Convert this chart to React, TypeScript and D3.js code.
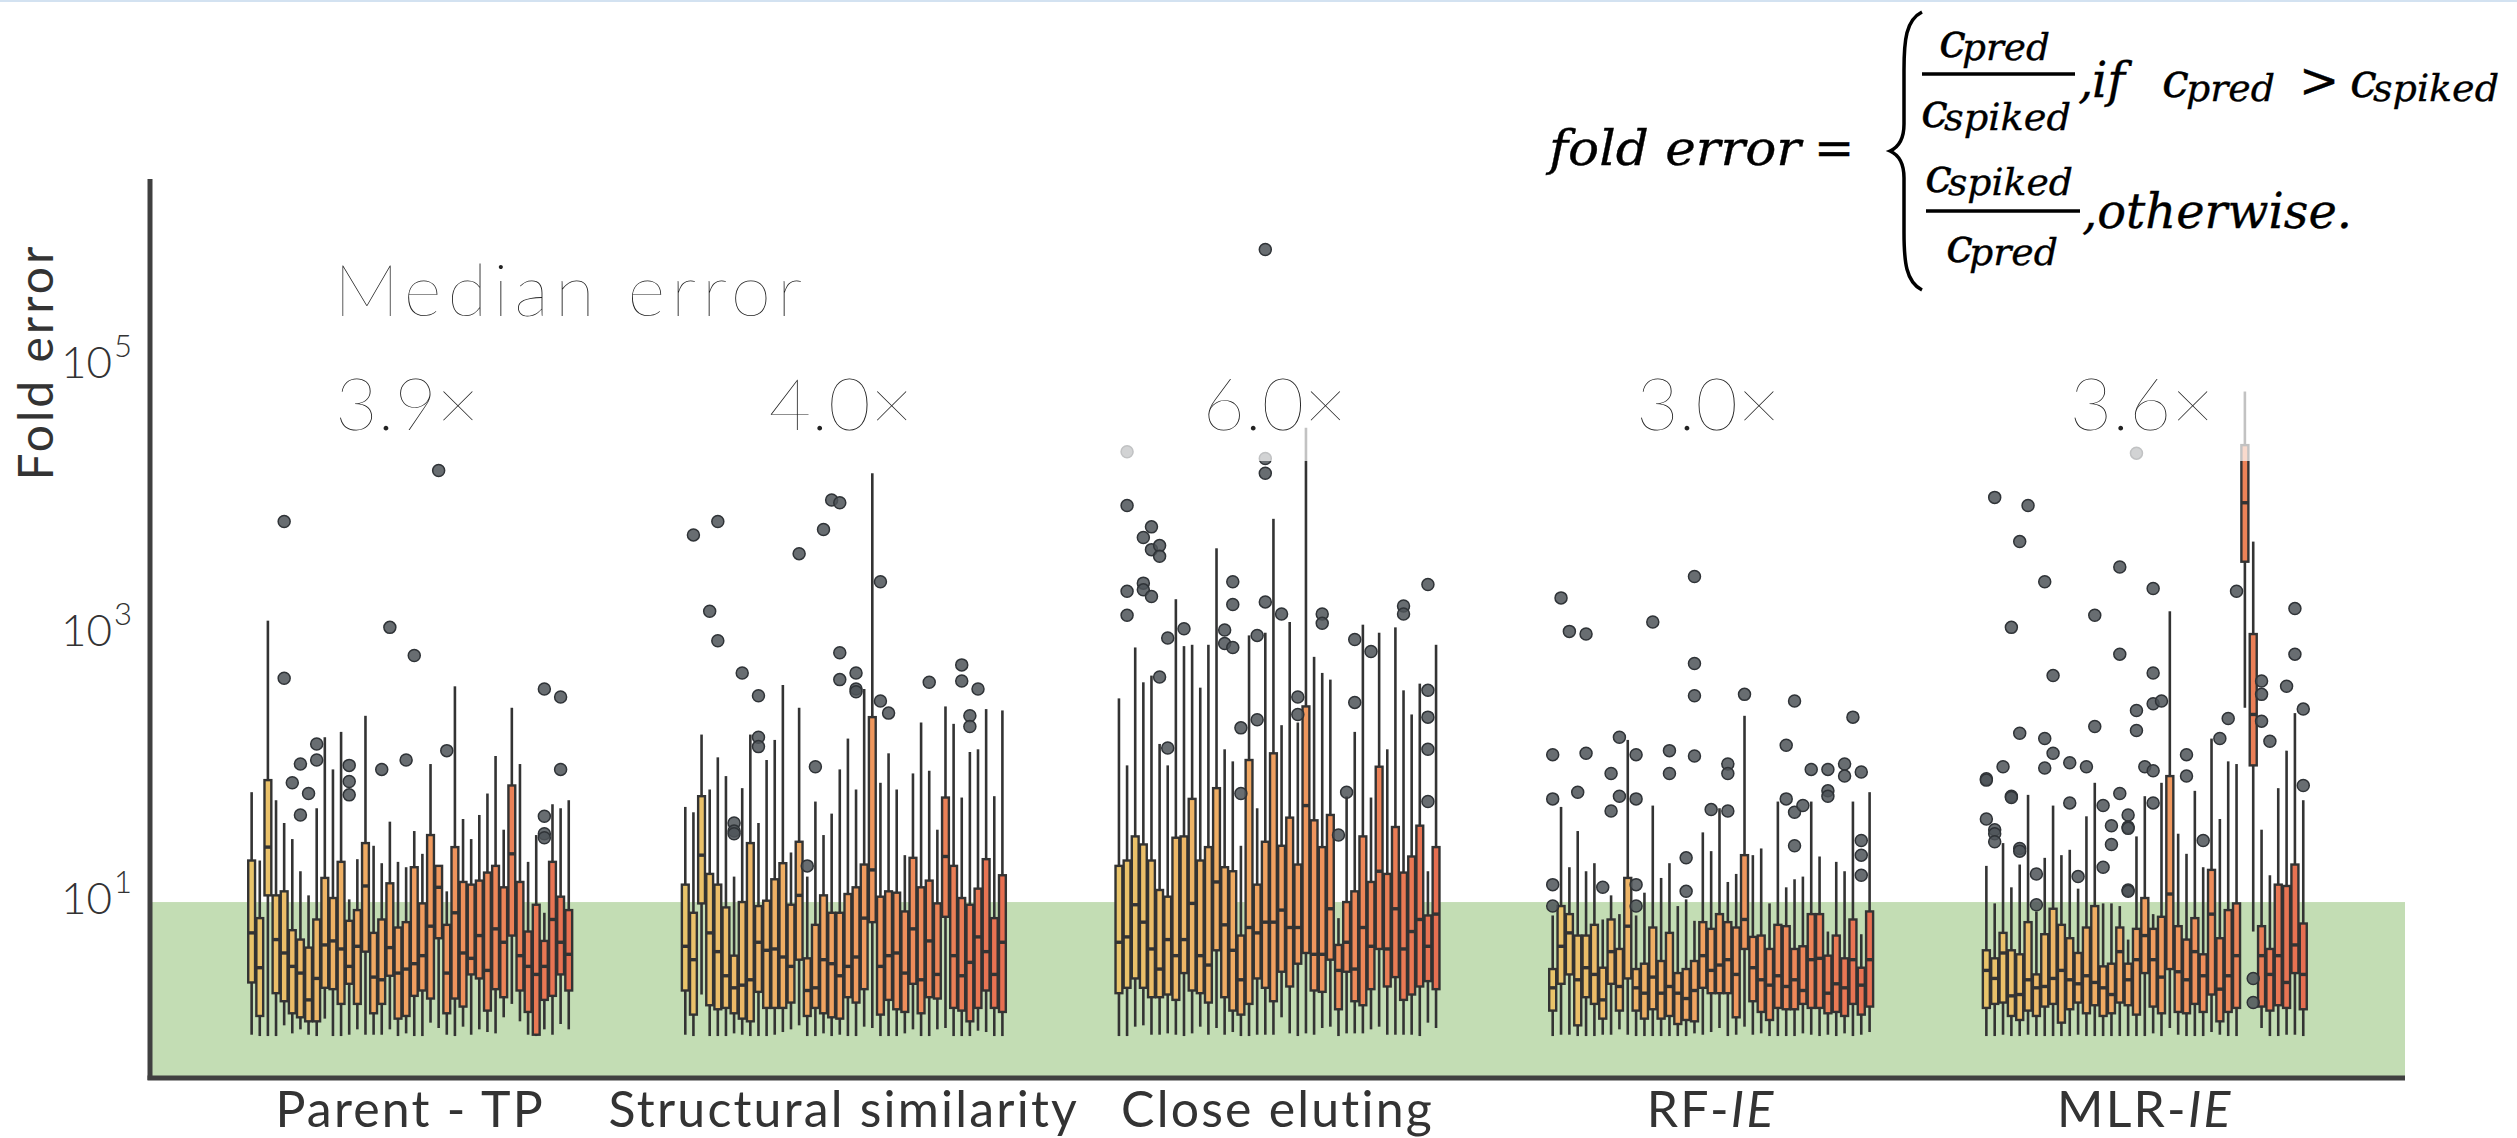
import React from "react";
import * as d3 from "d3";

const WIDTH = 2517;
const HEIGHT = 1138;

// x categories (plain part + italic suffix)
const categories = ["Parent - TP", "Structural similarity", "Close eluting", "RF-", "MLR-"];
const categoryItalic = ["", "", "", "IE", "IE"];
const medianErrors = ["3.9×", "4.0×", "6.0×", "3.0×", "3.6×"];
const tickExponents = [1, 3, 5];
const palette = ["#e9c46a", "#f4a261", "#e76f51"];

// rows: [lower whisker, q1, median, q3, upper whisker] as log10(fold error)
const parentTP = [
  [0.01, 0.40, 0.77, 1.31, 1.82], [0.00, 0.15, 0.51, 0.88, 1.31], [0.00, 1.05, 1.41, 1.91, 3.10], [0.00, 0.32, 0.72, 1.05, 1.76],
  [0.08, 0.26, 0.62, 1.08, 1.59], [0.02, 0.17, 0.52, 0.79, 1.47], [0.05, 0.14, 0.47, 0.72, 1.23], [0.01, 0.11, 0.27, 0.66, 1.05],
  [0.00, 0.11, 0.43, 0.87, 1.70], [0.13, 0.36, 0.68, 1.18, 2.23], [0.00, 0.35, 0.71, 1.03, 1.99], [0.00, 0.24, 0.65, 1.30, 2.27],
  [0.01, 0.39, 0.52, 0.86, 1.02], [0.05, 0.24, 0.67, 0.94, 1.32], [0.01, 0.63, 1.12, 1.44, 2.39], [0.01, 0.17, 0.44, 0.77, 1.42],
  [0.01, 0.24, 0.42, 0.87, 1.29], [0.05, 0.45, 0.66, 1.14, 1.60], [0.00, 0.13, 0.47, 0.81, 1.30], [0.02, 0.15, 0.50, 0.85, 1.26],
  [0.00, 0.30, 0.54, 1.26, 1.53], [0.00, 0.34, 0.60, 0.99, 1.36], [0.10, 0.28, 0.82, 1.50, 2.03], [0.06, 0.73, 1.11, 1.27, 1.27],
  [0.01, 0.17, 0.47, 0.83, 1.08], [0.00, 0.28, 0.92, 1.41, 2.61], [0.07, 0.22, 0.62, 1.15, 1.62], [0.01, 0.46, 0.58, 1.13, 1.47],
  [0.05, 0.43, 0.75, 1.16, 1.65], [0.03, 0.19, 0.49, 1.22, 1.81], [0.02, 0.35, 0.80, 1.27, 2.09], [0.14, 0.29, 0.70, 1.11, 1.54],
  [0.24, 0.75, 1.36, 1.87, 2.45], [0.11, 0.34, 0.60, 1.15, 2.03], [0.01, 0.18, 0.52, 0.78, 1.30], [0.00, 0.01, 0.46, 0.98, 1.50],
  [0.05, 0.27, 0.52, 0.71, 0.92], [0.01, 0.30, 0.87, 1.30, 1.73], [0.09, 0.46, 0.70, 1.04, 1.70], [0.05, 0.34, 0.61, 0.94, 1.76],
];
// [box index, log10 value]
const parentTPFliers = [
  [4, 2.67], [4, 3.84], [5, 1.89], [6, 2.03], [6, 1.65], [7, 1.81], [8, 2.18], [8, 2.06], [12, 2.02], [12, 1.90], [12, 1.80],
  [16, 1.99], [17, 3.05], [19, 2.06], [20, 2.84], [23, 4.22], [24, 2.13], [36, 2.59], [36, 1.64], [36, 1.51], [36, 1.48],
  [38, 2.53], [38, 1.99],
];

const structural = [
  [0.01, 0.34, 0.67, 1.13, 1.71], [0.00, 0.16, 0.57, 0.92, 1.67], [0.31, 0.99, 1.35, 1.79, 2.25], [0.00, 0.23, 0.77, 1.21, 1.84],
  [0.00, 0.20, 0.63, 1.13, 2.08], [0.00, 0.21, 0.45, 0.96, 1.94], [0.02, 0.17, 0.36, 0.60, 1.19], [0.01, 0.13, 0.38, 1.00, 1.85],
  [0.00, 0.11, 0.42, 1.44, 2.25], [0.00, 0.33, 0.70, 0.97, 1.59], [0.00, 0.21, 0.64, 1.01, 2.06], [0.01, 0.21, 0.65, 1.17, 2.21],
  [0.03, 0.21, 0.59, 1.29, 2.62], [0.05, 0.25, 0.52, 0.98, 1.37], [0.08, 0.57, 1.05, 1.45, 2.45], [0.00, 0.15, 0.34, 0.58, 1.19],
  [0.00, 0.21, 0.36, 0.83, 1.75], [0.02, 0.17, 0.57, 1.05, 1.50], [0.00, 0.14, 0.54, 0.92, 1.66], [0.01, 0.13, 0.45, 0.92, 1.99],
  [0.00, 0.29, 0.52, 1.06, 2.22], [0.00, 0.25, 0.59, 1.11, 1.84], [0.07, 0.35, 0.88, 1.28, 2.59], [0.06, 0.85, 1.24, 2.38, 4.20],
  [0.00, 0.16, 0.52, 1.04, 1.89], [0.00, 0.27, 0.60, 1.08, 2.11], [0.00, 0.20, 0.62, 1.07, 1.84], [0.02, 0.18, 0.47, 0.93, 1.35],
  [0.05, 0.39, 0.80, 1.33, 1.96], [0.00, 0.17, 0.42, 1.11, 2.34], [0.00, 0.29, 0.71, 1.16, 1.98], [0.05, 0.28, 0.46, 0.99, 1.54],
  [0.06, 0.89, 1.34, 1.78, 2.46], [0.00, 0.21, 0.60, 1.27, 2.33], [0.00, 0.19, 0.45, 1.03, 1.78], [0.00, 0.11, 0.55, 0.98, 2.12],
  [0.04, 0.21, 0.74, 1.10, 2.14], [0.03, 0.34, 0.63, 1.32, 2.44], [0.00, 0.21, 0.46, 0.88, 1.79], [0.00, 0.18, 0.70, 1.20, 2.43],
];
const structuralFliers = [
  [3, 3.17], [4, 2.95], [7, 2.71], [9, 2.54], [9, 2.23], [9, 2.16], [6, 1.59], [6, 1.53], [6, 1.51], [16, 2.01], [15, 1.27],
  [19, 2.86], [19, 2.66], [21, 2.71], [21, 2.59], [21, 2.57], [24, 2.50], [25, 2.41], [30, 2.64], [34, 2.77], [34, 2.65],
  [36, 2.59], [35, 2.39], [35, 2.31], [1, 3.74], [4, 3.84], [14, 3.60], [17, 3.78], [18, 4.00], [19, 3.98], [24, 3.39],
];

const closeEluting = [
  [0.00, 0.32, 0.70, 1.27, 2.52], [0.00, 0.36, 0.74, 1.31, 2.02], [0.07, 0.43, 0.98, 1.49, 2.90], [0.08, 0.36, 0.85, 1.43, 2.64],
  [0.01, 0.29, 0.65, 1.31, 2.69], [0.01, 0.29, 0.50, 1.09, 2.18], [0.02, 0.31, 0.72, 1.04, 2.02], [0.01, 0.27, 0.60, 1.48, 3.26],
  [0.00, 0.47, 0.72, 1.49, 2.91], [0.02, 0.34, 0.99, 1.77, 2.92], [0.07, 0.32, 0.60, 1.31, 2.60], [0.01, 0.25, 0.53, 1.41, 2.92],
  [0.06, 0.64, 1.15, 1.85, 3.64], [0.01, 0.29, 0.83, 1.26, 2.14], [0.03, 0.19, 0.64, 1.23, 2.05], [0.00, 0.16, 0.42, 0.75, 1.42],
  [0.00, 0.24, 0.81, 2.06, 2.99], [0.01, 0.43, 0.77, 1.13, 1.70], [0.01, 0.36, 0.85, 1.45, 3.01], [0.01, 0.26, 0.85, 2.11, 3.86],
  [0.14, 0.48, 0.94, 1.42, 2.32], [0.02, 0.37, 0.81, 1.63, 3.09], [0.00, 0.54, 0.81, 1.28, 2.34], [0.02, 0.62, 1.72, 2.46, 4.54],
  [0.01, 0.34, 0.61, 1.61, 2.83], [0.06, 0.33, 0.61, 1.41, 2.71], [0.07, 0.57, 0.95, 1.65, 2.66], [0.00, 0.20, 0.49, 0.68, 0.88],
  [0.02, 0.48, 0.70, 1.00, 1.79], [0.02, 0.26, 0.50, 1.08, 2.27], [0.02, 0.23, 0.81, 1.49, 3.07], [0.05, 0.35, 0.67, 1.15, 1.78],
  [0.07, 0.65, 1.23, 2.01, 3.01], [0.01, 0.37, 0.65, 1.21, 2.14], [0.01, 0.44, 0.95, 1.56, 3.05], [0.01, 0.27, 0.65, 1.22, 2.58],
  [0.01, 0.31, 0.78, 1.34, 2.40], [0.00, 0.37, 0.87, 1.57, 2.63], [0.10, 0.41, 0.67, 0.90, 1.23], [0.06, 0.35, 0.91, 1.41, 2.92],
];
const closeElutingFliers = [
  [1, 3.14], [5, 2.68], [6, 2.97], [6, 2.15], [8, 3.04], [13, 3.03], [13, 2.93], [14, 2.90], [14, 3.22], [15, 2.30], [15, 1.81],
  [17, 2.99], [17, 2.36], [18, 3.24], [20, 3.15], [22, 2.53], [22, 2.40], [25, 3.15], [25, 3.08], [27, 1.50], [28, 1.82],
  [29, 2.96], [29, 2.49], [31, 2.87], [35, 3.21], [35, 3.15], [38, 2.58], [38, 2.38], [38, 2.14], [38, 1.75],
  [1, 4.36], [1, 3.96], [1, 3.32], [3, 3.72], [3, 3.38], [3, 3.33], [4, 3.80], [4, 3.63], [4, 3.28], [5, 3.66], [5, 3.58],
  [14, 3.39], [18, 5.87], [18, 4.31], [18, 4.20], [38, 3.37],
];

const rfIE = [
  [0.00, 0.19, 0.36, 0.50, 0.90], [0.01, 0.39, 0.67, 0.97, 1.71], [0.01, 0.46, 0.77, 0.91, 1.26], [0.00, 0.08, 0.42, 0.75, 1.53],
  [0.00, 0.29, 0.51, 0.75, 1.23], [0.00, 0.24, 0.46, 0.83, 1.29], [0.01, 0.13, 0.27, 0.51, 0.87], [0.01, 0.39, 0.63, 0.87, 1.05],
  [0.05, 0.19, 0.37, 0.65, 0.91], [0.01, 0.43, 0.82, 1.18, 2.21], [0.00, 0.19, 0.36, 0.50, 0.90], [0.00, 0.13, 0.32, 0.54, 1.07],
  [0.00, 0.20, 0.44, 0.81, 1.72], [0.00, 0.13, 0.32, 0.56, 1.18], [0.00, 0.15, 0.37, 0.77, 1.29], [0.00, 0.09, 0.32, 0.47, 0.97],
  [0.00, 0.12, 0.28, 0.50, 1.02], [0.02, 0.11, 0.34, 0.56, 0.86], [0.01, 0.36, 0.60, 0.85, 1.52], [0.03, 0.32, 0.49, 0.80, 1.38],
  [0.06, 0.32, 0.53, 0.91, 1.70], [0.00, 0.32, 0.57, 0.85, 1.15], [0.01, 0.14, 0.46, 0.81, 1.21], [0.07, 0.65, 0.87, 1.35, 2.39],
  [0.01, 0.26, 0.51, 0.74, 1.35], [0.02, 0.18, 0.42, 0.75, 1.40], [0.00, 0.12, 0.38, 0.65, 0.99], [0.00, 0.21, 0.45, 0.83, 1.75],
  [0.00, 0.20, 0.37, 0.82, 1.11], [0.00, 0.20, 0.42, 0.65, 1.17], [0.02, 0.24, 0.34, 0.67, 1.19], [0.01, 0.21, 0.57, 0.91, 1.75],
  [0.00, 0.21, 0.58, 0.91, 1.34], [0.01, 0.17, 0.32, 0.60, 0.78], [0.00, 0.18, 0.39, 0.75, 1.30], [0.02, 0.15, 0.36, 0.58, 1.23],
  [0.00, 0.24, 0.57, 0.87, 1.75], [0.01, 0.16, 0.38, 0.51, 0.76], [0.03, 0.22, 0.57, 0.93, 1.82],
];
const rfIEFliers = [
  [0, 2.10], [0, 1.77], [0, 1.13], [0, 0.97], [1, 3.27], [2, 3.02], [3, 1.82], [4, 3.00], [4, 2.11], [6, 1.11], [7, 1.96],
  [7, 1.68], [8, 2.23], [8, 1.79], [10, 2.10], [10, 1.77], [10, 1.13], [10, 0.97], [12, 3.09], [14, 2.13], [14, 1.96],
  [16, 1.33], [16, 1.08], [17, 2.78], [17, 2.54], [17, 2.09], [17, 3.43], [19, 1.69], [21, 2.03], [21, 1.96], [21, 1.68],
  [23, 2.55], [28, 2.17], [28, 1.77], [29, 2.50], [29, 1.67], [29, 1.42], [30, 1.72], [31, 1.99], [33, 1.99], [33, 1.83],
  [33, 1.79], [35, 2.03], [35, 1.94], [36, 2.38], [37, 1.97], [37, 1.46], [37, 1.35], [37, 1.20],
];

const mlrIE = [
  [0.00, 0.21, 0.49, 0.64, 1.27], [0.00, 0.24, 0.43, 0.58, 0.99], [0.01, 0.25, 0.62, 0.77, 1.44], [0.00, 0.15, 0.30, 0.64, 1.11],
  [0.00, 0.12, 0.31, 0.61, 1.28], [0.01, 0.19, 0.42, 0.85, 1.80], [0.00, 0.15, 0.36, 0.46, 0.93], [0.00, 0.22, 0.37, 0.76, 1.33],
  [0.00, 0.24, 0.43, 0.95, 1.72], [0.00, 0.10, 0.49, 0.83, 1.35], [0.00, 0.20, 0.42, 0.73, 1.39], [0.01, 0.25, 0.39, 0.62, 1.10],
  [0.00, 0.17, 0.45, 0.81, 1.64], [0.00, 0.23, 0.40, 0.97, 1.89], [0.00, 0.15, 0.36, 0.52, 0.99], [0.00, 0.17, 0.31, 0.54, 0.99],
  [0.00, 0.25, 0.63, 0.81, 0.97], [0.00, 0.23, 0.42, 0.54, 0.72], [0.00, 0.16, 0.57, 0.80, 1.49], [0.00, 0.47, 0.75, 1.03, 1.79],
  [0.02, 0.22, 0.57, 0.80, 0.91], [0.00, 0.17, 0.44, 0.89, 1.89], [0.06, 0.50, 1.06, 1.94, 3.17], [0.01, 0.18, 0.48, 0.82, 1.51],
  [0.00, 0.17, 0.42, 0.72, 1.36], [0.00, 0.24, 0.63, 0.88, 1.83], [0.00, 0.18, 0.45, 0.61, 1.26], [0.03, 0.31, 0.91, 1.24, 2.22],
  [0.01, 0.11, 0.35, 0.73, 1.62], [0.00, 0.18, 0.45, 0.94, 2.05], [0.00, 0.21, 0.60, 0.99, 2.03], [2.45, 3.54, 3.98, 4.41, 4.81],
  [0.78, 2.02, 2.40, 3.00, 3.69], [0.06, 0.22, 0.60, 0.82, 1.54], [0.00, 0.19, 0.46, 0.65, 1.20], [0.00, 0.23, 0.60, 1.13, 1.85],
  [0.01, 0.21, 0.40, 1.12, 2.13], [0.01, 0.47, 0.68, 1.28, 2.41], [0.00, 0.20, 0.46, 0.84, 1.76],
];
const mlrIEFliers = [
  [0, 1.92], [0, 1.91], [0, 1.62], [1, 1.54], [1, 1.51], [1, 1.45], [1, 4.02], [2, 2.01], [3, 3.05], [3, 1.79], [3, 1.78],
  [4, 2.26], [4, 1.40], [4, 1.38], [4, 3.69], [5, 3.96], [6, 1.21], [6, 0.98], [7, 2.22], [7, 2.00], [7, 3.39], [8, 2.69],
  [8, 2.11], [10, 2.04], [10, 1.74], [11, 1.19], [12, 2.01], [13, 3.14], [13, 2.31], [14, 1.72], [14, 1.26], [15, 1.57],
  [15, 1.43], [16, 2.85], [16, 1.81], [16, 3.50], [17, 1.65], [17, 1.56], [17, 1.55], [17, 1.09], [17, 1.08], [18, 2.43],
  [18, 2.28], [18, 4.35], [19, 2.01], [20, 2.71], [20, 2.48], [20, 1.98], [20, 1.74], [20, 3.34], [21, 2.50], [24, 2.10],
  [24, 1.94], [26, 1.46], [28, 2.22], [29, 2.37], [30, 3.32], [32, 0.43], [32, 0.25], [33, 2.65], [33, 2.55], [33, 2.35],
  [34, 2.20], [36, 2.61], [37, 3.19], [37, 2.85], [38, 2.44], [38, 1.87],
];

const groups = [
  { boxes: parentTP, fliers: parentTPFliers },
  { boxes: structural, fliers: structuralFliers },
  { boxes: closeEluting, fliers: closeElutingFliers },
  { boxes: rfIE, fliers: rfIEFliers },
  { boxes: mlrIE, fliers: mlrIEFliers },
];

const THIN = "Lato, 'Open Sans', sans-serif";
const MATH = "'DejaVu Serif', serif";

export default function App() {
  const x = d3.scaleLinear().domain([-0.6, 4.6]).range([150, 2405]);
  const y = d3.scaleLog().domain([10 ** -0.313, 10 ** 6.396]).range([1078, 179]);
  const v = (l: number) => y(10 ** l);
  const color = d3.interpolateRgbBasis(palette);
  const [y0] = y.range();
  const labelBase = 430;

  return (
    <svg width={WIDTH} height={HEIGHT} style={{ display: "block", position: "absolute", left: 0, top: 0 }}>
      <style>{`body{margin:0}`}</style>
      <rect x={0} y={0} width={WIDTH} height={HEIGHT} fill="#fff" />
      <rect x={0} y={0} width={WIDTH} height={2} fill="#d3e2f1" />

      {/* acceptable band: fold error < 10 */}
      <rect x={x(-0.6)} y={y(10)} width={x(4.6) - x(-0.6)} height={y0 - y(10)} fill="#c3ddb4" />

      {groups.map((grp, g) => {
        const n = grp.boxes.length;
        const hue = d3.scaleBand<number>().domain(d3.range(n)).range([x(g - 0.375), x(g + 0.375)]);
        const bw = hue.bandwidth();
        const boxW = bw * 0.84;
        const cx = (i: number) => (hue(i) as number) + bw / 2;
        return (
          <g key={g}>
            {grp.boxes.map(([lo, q1, med, q3, hi], i) => (
              <g key={i}>
                <line x1={cx(i)} x2={cx(i)} y1={v(q1)} y2={v(lo)} stroke="#333" strokeWidth={2.6} />
                <line x1={cx(i)} x2={cx(i)} y1={v(q3)} y2={v(hi)} stroke="#333" strokeWidth={2.6} />
                <rect x={cx(i) - boxW / 2} y={v(q3)} width={boxW} height={v(q1) - v(q3)}
                  fill={color(i / (n - 1))} stroke="#333" strokeWidth={2.4} />
                <line x1={cx(i) - boxW / 2} x2={cx(i) + boxW / 2} y1={v(med)} y2={v(med)} stroke="#333" strokeWidth={3.4} />
              </g>
            ))}
            {grp.fliers.map(([i, l], k) => (
              <circle key={k} cx={cx(i)} cy={v(l)} r={6} fill="#4d5358" fillOpacity={0.85} stroke="#2f3337" strokeWidth={1.5} />
            ))}
          </g>
        );
      })}

      {/* median error labels with translucent background */}
      {medianErrors.map((t, g) => (
        <g key={t}>
          <rect x={x(g) - 165} y={labelBase - 72} width={330} height={103} fill="#fff" fillOpacity={0.7} />
          <text x={x(g) - 3} y={labelBase} textAnchor="middle" fontFamily={THIN} fontWeight={200} fontSize={73} fill="#222">{t}</text>
        </g>
      ))}
      <text x={334} y={316} fontFamily={THIN} fontWeight={200} fontSize={73} letterSpacing={6} fill="#222">Median error</text>

      {/* axes */}
      <line x1={150} x2={150} y1={179} y2={y0 + 2} stroke="#404040" strokeWidth={5} />
      <line x1={147.5} x2={x(4.6)} y1={y0} y2={y0} stroke="#404040" strokeWidth={5} />
      {tickExponents.map((e) => (
        <g key={e}>
          <text x={112} y={y(10 ** e) + 12} textAnchor="end" fontFamily={THIN} fontWeight={300} fontSize={44} fill="#333">10</text>
          <text x={114} y={y(10 ** e) - 9} fontFamily={THIN} fontWeight={300} fontSize={31} fill="#333">{e}</text>
        </g>
      ))}
      <text transform="translate(53,362) rotate(-90)" textAnchor="middle" fontFamily={THIN} fontSize={48} letterSpacing={3} fill="#333">Fold error</text>
      {categories.map((c, g) => (
        <text key={c} x={x(g)} y={1127} textAnchor="middle" fontFamily={THIN} fontSize={50} letterSpacing={2.2} fill="#333">
          {c}
          {categoryItalic[g] && <tspan fontStyle="italic">{categoryItalic[g]}</tspan>}
        </text>
      ))}

      {/* fold error definition */}
      <g fontFamily={MATH} fontStyle="italic" fill="#000" stroke="#000" strokeWidth={0.35}>
        <text x={1549} y={165} fontSize={48} textLength={252} lengthAdjust="spacingAndGlyphs">fold error</text>
        <text x={1814} y={165} fontSize={48} fontStyle="normal">=</text>
        <path d="M1922,12 C1906,20 1904,40 1904,70 L1904,124 C1904,139 1899,147 1890,151 C1899,155 1904,163 1904,178 L1904,232 C1904,262 1906,282 1922,290"
          fill="none" stroke="#000" strokeWidth={3.5} />
        <text x={1939} y={57} fontSize={48}>c</text>
        <text x={1962} y={60} fontSize={37} textLength={88} lengthAdjust="spacingAndGlyphs">pred</text>
        <line x1={1922} x2={2075} y1={74} y2={74} stroke="#000" strokeWidth={3.5} />
        <text x={1921} y={127} fontSize={48}>c</text>
        <text x={1944} y={130} fontSize={37} textLength={127} lengthAdjust="spacingAndGlyphs">spiked</text>
        <text x={2078} y={97} fontSize={48}>,</text>
        <text x={2092} y={97} fontSize={48}>if</text>
        <text x={2162} y={97} fontSize={48}>c</text>
        <text x={2186} y={101} fontSize={37} textLength={89} lengthAdjust="spacingAndGlyphs">pred</text>
        <text x={2299} y={97} fontSize={48} fontStyle="normal">&gt;</text>
        <text x={2350} y={97} fontSize={48}>c</text>
        <text x={2373} y={101} fontSize={37} textLength={126} lengthAdjust="spacingAndGlyphs">spiked</text>
        <text x={1925} y={192} fontSize={48}>c</text>
        <text x={1948} y={195} fontSize={37} textLength={125} lengthAdjust="spacingAndGlyphs">spiked</text>
        <line x1={1926} x2={2080} y1={211} y2={211} stroke="#000" strokeWidth={3.5} />
        <text x={1946} y={262} fontSize={48}>c</text>
        <text x={1969} y={265} fontSize={37} textLength={89} lengthAdjust="spacingAndGlyphs">pred</text>
        <text x={2082} y={228} fontSize={48} textLength={270} lengthAdjust="spacingAndGlyphs">,otherwise.</text>
      </g>
    </svg>
  );
}
